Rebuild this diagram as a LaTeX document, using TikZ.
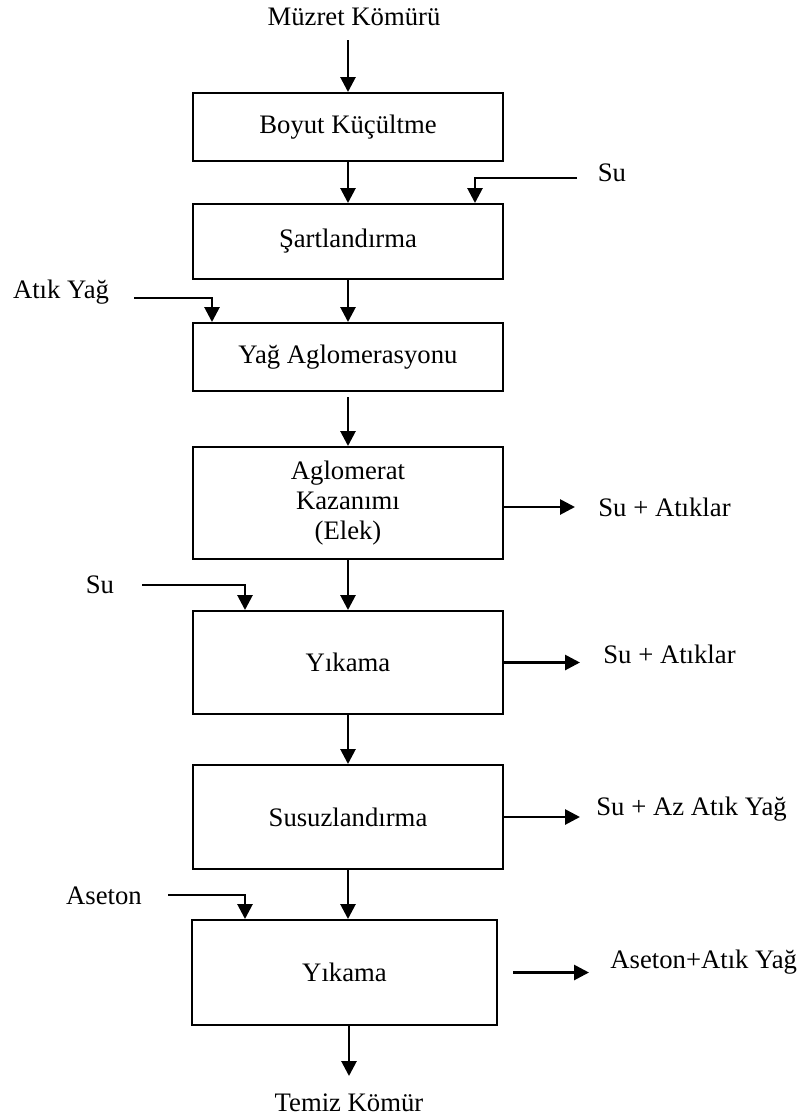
\documentclass[tikz,border=0pt]{standalone}
\usepackage{fontspec}
\setmainfont{Liberation Serif}
\usetikzlibrary{arrows.meta,positioning}

\tikzset{
  proc/.style={draw, line width=1pt, minimum width=155pt, align=center},
  flow/.style={line width=1.4pt, -{Triangle[length=7.5pt,width=7.5pt]}},
  lbl/.style={inner sep=0pt}
}

\begin{document}
\begin{tikzpicture}[x=0.5pt,y=-0.5pt,font=\fontsize{13.35}{15}\selectfont]
\useasboundingbox (0,0) rectangle (800,1116);

%boxes
\node[proc, minimum height=34pt] (boyut) at (348,127) {Boyut Küçültme};
\node[proc, minimum height=37.5pt] (sart) at (348,241.5) {Şartlandırma};
\node[proc, minimum height=34pt] (yag) at (348,357) {Yağ Aglomerasyonu};
\node[proc, minimum height=56pt] (kazanim) at (348,503) {Aglomerat\\Kazanımı\\(Elek)};
\node[proc, minimum height=51.5pt] (yikama) at (348,662.5) {Yıkama};
\node[proc, minimum height=52pt] (susuz) at (348,817) {Susuzlandırma};
\node[proc, minimum height=52.5pt, minimum width=152.5pt] (yikaseton) at (344.5,972.5) {Yıkama};

%texts
\node[lbl] (muzret) at (354,17) {Müzret Kömürü};
\node[lbl] (su1) at (612,173) {Su};
\node[lbl] (atikyag) at (61,292) {Atık Yağ};
\node[lbl] (su2) at (100,585) {Su};
\node[lbl] (aseton) at (104,896) {Aseton};
\node[lbl, anchor=west] (out1) at (598,507) {Su + Atıklar};
\node[lbl, anchor=west] (out2) at (603,654) {Su + Atıklar};
\node[lbl, anchor=west] (out3) at (596,809) {Su + Az Atık Yağ};
\node[lbl, anchor=west] (out4) at (610,962) {Aseton+Atık Yağ};
\node[lbl] (temiz) at (349,1103) {Temiz Kömür};

%main line
\coordinate (top) at (348,40);
\draw[flow] (top) -- (boyut);
\foreach \a/\b in {boyut/sart, sart/yag, kazanim/yikama, yikama/susuz}
  \draw[flow] (\a) -- (\b);
\draw[flow, shorten <=2.5pt] (yag) -- (kazanim);
\draw[flow] (susuz.south) -- (susuz.south |- yikaseton.north);
\coordinate (bottom) at (349,1076);
\draw[flow] (yikaseton.south -| bottom) -- (bottom);

%inputs
\coordinate (su1in) at (577,178);
\draw[flow] (su1in) -| ([xshift=63.5pt]sart.north);
\coordinate (atikin) at (134,298);
\draw[flow] (atikin) -| ([xshift=-68pt]yag.north);
\coordinate (su2in) at (142,585);
\draw[flow] (su2in) -| ([xshift=-51.5pt]yikama.north);
\coordinate (asetonin) at (168,895);
\draw[flow] (asetonin) -| ([xshift=-49.75pt]yikaseton.north);

%outputs
\coordinate (tip1) at (575,507);
\draw[flow] (kazanim.east |- tip1) -- (tip1);
\coordinate (tip2) at (580,663);
\draw[flow] (yikama.east) -- (yikama.east -| tip2);
\coordinate (tip3) at (580,820);
\draw[flow] (susuz.east) -- (susuz.east -| tip3);
\coordinate (tip4) at (589,973);
\draw[flow, shorten <=7.5pt] (yikaseton.east) -- (yikaseton.east -| tip4);

\end{tikzpicture}
\end{document}
